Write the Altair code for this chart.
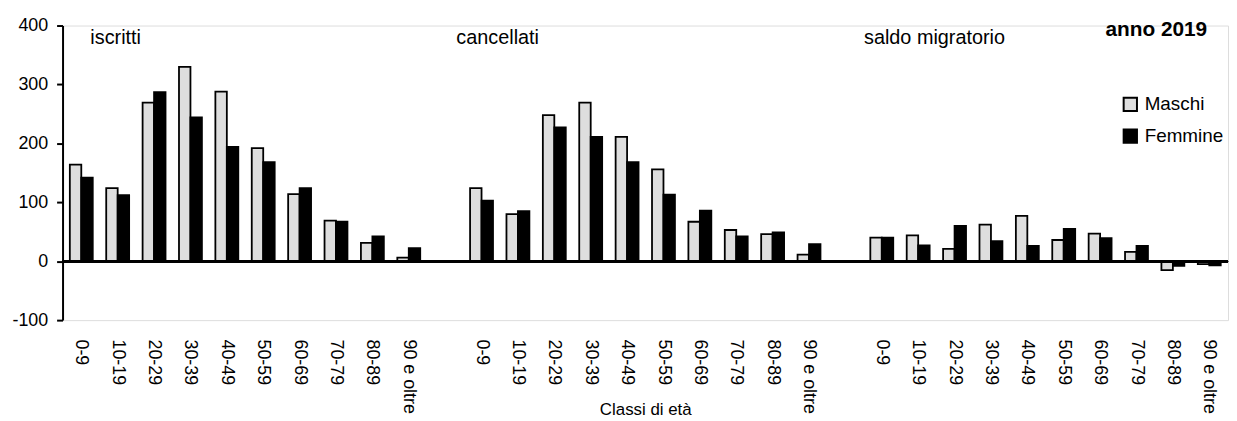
import altair as alt
import pandas as pd

groups = ["iscritti", "cancellati", "saldo migratorio"]
ages = ["0-9", "10-19", "20-29", "30-39", "40-49", "50-59", "60-69", "70-79", "80-89", "90 e oltre"]
sexes = ["Maschi", "Femmine"]

iscritti_m = [164, 124, 269, 330, 288, 192, 114, 69, 31, 6]
iscritti_f = [142, 112, 287, 244, 194, 168, 124, 67, 42, 22]
cancellati_m = [124, 80, 248, 269, 211, 156, 67, 53, 46, 11]
cancellati_f = [103, 85, 227, 211, 168, 113, 86, 42, 49, 29]
saldo_m = [40, 44, 21, 62, 77, 36, 47, 16, -15, -5]
saldo_f = [40, 27, 60, 34, 26, 55, 39, 26, -8, -7]

series = {
    "iscritti": (iscritti_m, iscritti_f),
    "cancellati": (cancellati_m, cancellati_f),
    "saldo migratorio": (saldo_m, saldo_f),
}

rows = []
slots = []
for gi, g in enumerate(groups):
    if gi > 0:
        slots.append(f"gap{gi}|")
    m_vals, f_vals = series[g]
    for ai, a in enumerate(ages):
        key = f"{g}|{a}"
        slots.append(key)
        rows.append({"slot": key, "sesso": "Maschi", "valore": m_vals[ai]})
        rows.append({"slot": key, "sesso": "Femmine", "valore": f_vals[ai]})
df = pd.DataFrame(rows)

ann_text = ["iscritti", "cancellati", "saldo migratorio"]
ann_x = [28, 397, 808]

bars = alt.Chart(df).mark_bar(stroke="black", strokeWidth=1.8).encode(
    x=alt.X(
        "slot:N",
        sort=slots,
        scale=alt.Scale(domain=slots, paddingInner=0.37, paddingOuter=0.2),
        axis=alt.Axis(
            title="Classi di età",
            labelExpr="split(datum.value, '|')[1]",
            labelAngle=90,
            labelFontSize=18,
            labelFont="Liberation Sans",
            labelColor="black",
            labelPadding=19,
            labelOverlap=False,
            labelLimit=0,
            domain=False,
            ticks=False,
            titleFontSize=17,
            titleFont="Liberation Sans",
            titleFontWeight="normal",
            titleColor="black",
            titleY=95,
            titleBaseline="alphabetic",
        ),
    ),
    xOffset=alt.XOffset("sesso:N", sort=sexes, scale=alt.Scale(domain=sexes)),
    y=alt.Y(
        "valore:Q",
        scale=alt.Scale(domain=[-100, 400], nice=False),
        axis=alt.Axis(
            title=None,
            values=[-100, 0, 100, 200, 300, 400],
            labelExpr="datum.value + ''",
            grid=False,
            domainColor="black",
            domainWidth=2,
            tickColor="black",
            tickWidth=2,
            tickSize=6,
            labelPadding=9,
            labelFontSize=18,
            labelFont="Liberation Sans",
            labelColor="black",
        ),
    ),
    fill=alt.Fill(
        "sesso:N",
        sort=sexes,
        scale=alt.Scale(domain=sexes, range=["#dedede", "black"]),
        legend=alt.Legend(
            title=None,
            orient="none",
            legendX=1067,
            legendY=70,
            symbolType="square",
            symbolSize=180,
            symbolStrokeColor="black",
            symbolStrokeWidth=2,
            labelFontSize=19,
            labelFont="Liberation Sans",
            labelColor="black",
            labelOffset=5,
            rowPadding=9,
            padding=0,
        ),
    ),
)

zero = alt.Chart(df).mark_rule(color="black", strokeWidth=2).encode(y=alt.datum(0))

ann_df = pd.DataFrame({"t": ann_text, "px": ann_x})
ann = alt.Chart(ann_df).mark_text(
    align="left", baseline="alphabetic", fontSize=20, font="Liberation Sans", color="black"
).encode(text="t:N", x=alt.X("px:Q", scale=None), y=alt.value(19))

year = alt.Chart(pd.DataFrame({"t": ["anno 2019"]})).mark_text(
    align="right", baseline="alphabetic", fontSize=21, fontWeight="bold",
    font="Liberation Sans", color="black"
).encode(text="t:N", x=alt.value(1154), y=alt.value(11))

chart = alt.layer(bars, zero, ann, year).properties(
    width=1175,
    height=297,
    padding={"left": 3, "top": 7, "right": 0, "bottom": 0},
).configure_view(stroke=None).configure(background="white")

chart.save("out.html", embed_options={"renderer": "svg", "actions": False})
